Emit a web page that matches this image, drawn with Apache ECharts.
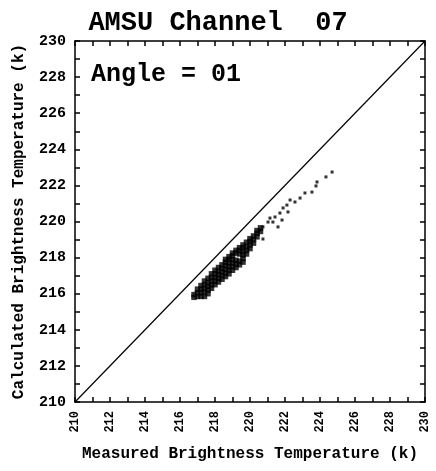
<!DOCTYPE html>
<html>
<head>
<meta charset="utf-8">
<script src="https://cdn.jsdelivr.net/npm/echarts@6/dist/echarts.min.js"></script>
<style>
  html, body { margin: 0; padding: 0; background: #fff; }
  #main { width: 436px; height: 471px; }
</style>
</head>
<body>
<div id="main"></div>
<script>
// axis range (k)
var axisMin = 210;
var axisMax = 230;
var diagonal = [[210, 210], [230, 230]];

// dense band of points (measured, calculated)
var bandPoints = [
  [216.8, 215.8], [216.8, 215.95],
  [217.0, 215.85], [217.0, 216.05], [217.0, 216.25],
  [217.2, 215.85], [217.2, 216.05], [217.2, 216.25], [217.2, 216.45],
  [217.4, 215.85], [217.4, 216.1], [217.4, 216.3], [217.4, 216.5], [217.4, 216.7],
  [217.6, 216.0], [217.6, 216.2], [217.6, 216.4], [217.6, 216.6], [217.6, 216.85],
  [217.8, 216.3], [217.8, 216.5], [217.8, 216.7], [217.8, 216.9], [217.8, 217.1],
  [218.0, 216.5], [218.0, 216.7], [218.0, 216.9], [218.0, 217.1], [218.0, 217.3],
  [218.2, 216.65], [218.2, 216.85], [218.2, 217.05], [218.2, 217.25], [218.2, 217.45],
  [218.4, 216.8], [218.4, 217.0], [218.4, 217.2], [218.4, 217.4], [218.4, 217.6],
  [218.6, 216.95], [218.6, 217.15], [218.6, 217.35], [218.6, 217.55], [218.6, 217.75], [218.6, 217.9],
  [218.8, 217.1], [218.8, 217.3], [218.8, 217.5], [218.8, 217.7], [218.8, 217.9], [218.8, 218.05],
  [219.0, 217.3], [219.0, 217.5], [219.0, 217.7], [219.0, 217.9], [219.0, 218.1], [219.0, 218.25],
  [219.2, 217.45], [219.2, 217.65], [219.2, 217.85], [219.2, 218.25], [219.2, 218.4],
  [219.4, 217.6], [219.4, 217.8], [219.4, 218.2], [219.4, 218.4], [219.4, 218.55],
  [219.6, 217.75], [219.6, 217.95], [219.6, 218.15], [219.6, 218.35], [219.6, 218.55], [219.6, 218.7],
  [219.8, 218.2], [219.8, 218.4], [219.8, 218.6], [219.8, 218.85],
  [220.0, 218.5], [220.0, 218.7], [220.0, 218.9], [220.0, 219.05],
  [220.2, 218.8], [220.2, 219.0], [220.2, 219.2],
  [220.4, 219.15], [220.4, 219.35], [220.4, 219.5],
  [220.6, 219.45], [220.6, 219.65]
];

// sparse points above 220.5 k
var sparsePoints = [
  [220.74, 219.03], [220.57, 219.53], [220.74, 219.70], [221.03, 219.97],
  [221.31, 219.97], [221.60, 219.70], [221.14, 220.19], [221.43, 220.25],
  [221.83, 220.08], [221.71, 220.47], [221.89, 220.75], [222.17, 220.53],
  [222.11, 220.91], [222.29, 221.19], [222.57, 221.08], [222.86, 221.30],
  [223.14, 221.58], [223.54, 221.63], [223.77, 221.97], [223.83, 222.19],
  [224.34, 222.47], [224.69, 222.74]
];

var font = 'Liberation Mono';

function evenLabel(v) {
  return v % 2 === 0 ? String(v) : '';
}

var chart = echarts.init(document.getElementById('main'));

function valAxis(extra) {
  var base = {
    type: 'value',
    min: axisMin,
    max: axisMax,
    interval: 1,
    splitLine: { show: false },
    axisLine: { show: true, lineStyle: { color: '#000', width: 1.5 } },
    axisTick: { show: true, inside: true, length: 5, lineStyle: { color: '#000', width: 1.5 } }
  };
  for (var k in extra) base[k] = extra[k];
  return base;
}

var option = {
  backgroundColor: '#fff',
  animation: false,
  title: [
    {
      text: 'AMSU Channel  07',
      left: 'center',
      top: 5,
      textStyle: { fontFamily: font, fontSize: 27, fontWeight: 'bold', color: '#000' }
    },
    {
      text: 'Angle = 01',
      left: 86,
      top: 57,
      textStyle: { fontFamily: font, fontSize: 25, fontWeight: 'bold', color: '#000' }
    }
  ],
  grid: { left: 75, right: 11, top: 41, bottom: 69 },
  xAxis: [
    valAxis({
      position: 'bottom',
      name: 'Measured Brightness Temperature (k)',
      nameLocation: 'middle',
      nameGap: 44,
      nameTextStyle: { fontFamily: font, fontSize: 16, fontWeight: 'bold', color: '#000' },
      axisLabel: {
        rotate: 90, margin: 9, formatter: evenLabel,
        fontFamily: font, fontSize: 12, fontWeight: 'bold', color: '#000'
      }
    }),
    valAxis({ position: 'top', axisLabel: { show: false } })
  ],
  yAxis: [
    valAxis({
      position: 'left',
      name: 'Calculated Brightness Temperature (k)',
      nameLocation: 'middle',
      nameGap: 48,
      nameTextStyle: { fontFamily: font, fontSize: 16, fontWeight: 'bold', color: '#000' },
      axisLabel: {
        margin: 9, formatter: evenLabel,
        fontFamily: font, fontSize: 15, fontWeight: 'bold', color: '#000'
      }
    }),
    valAxis({ position: 'right', axisLabel: { show: false } })
  ],
  series: [
    {
      type: 'line',
      data: diagonal,
      symbol: 'none',
      lineStyle: { color: '#000', width: 1.2 },
      silent: true
    },
    {
      type: 'scatter',
      data: bandPoints,
      symbol: 'rect',
      symbolSize: 5.5,
      itemStyle: { color: '#000' }
    },
    {
      type: 'scatter',
      data: sparsePoints,
      symbol: 'rect',
      symbolSize: 3,
      itemStyle: { color: '#000' }
    }
  ]
};

chart.setOption(option);
</script>
</body>
</html>
